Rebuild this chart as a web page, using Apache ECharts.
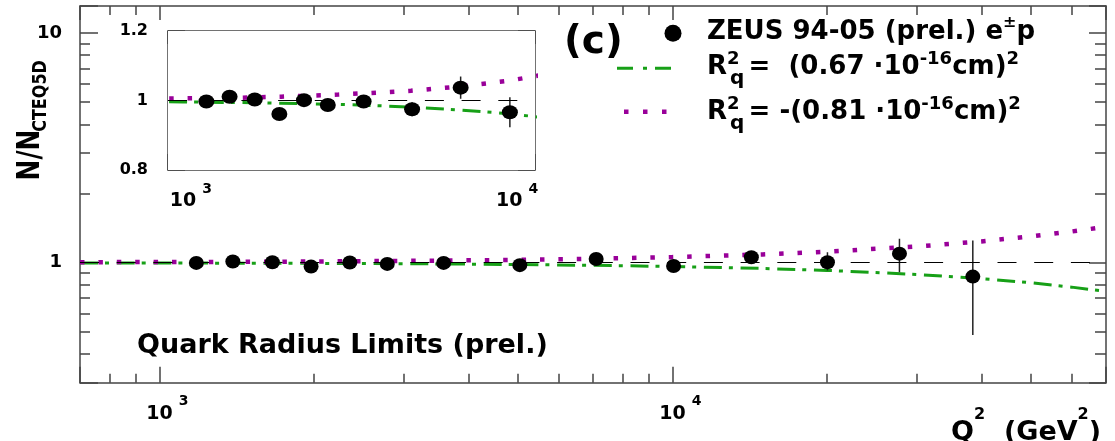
<!DOCTYPE html>
<html><head><meta charset="utf-8">
<script src="https://cdn.jsdelivr.net/npm/echarts@6/dist/echarts.min.js"></script>
<style>html,body{margin:0;padding:0;background:#fff;}#c{width:1115px;height:441px;}</style>
</head><body><div id="c"></div>
<script>
// ---------- data ----------
const q2     = [1180, 1390, 1660, 1975, 2350, 2780, 3580, 5040, 7100, 10050, 14250, 20050, 27700, 38500];
const ratio  = [0.997, 1.011, 1.003, 0.961, 1.001, 0.987, 0.997, 0.975, 1.037, 0.966, 1.055, 1.003, 1.094, 0.869];
const errLo  = [0.012, 0.012, 0.013, 0.014, 0.015, 0.016, 0.017, 0.020, 0.032, 0.043, 0.060, 0.080, 0.187, 0.385];
const errHi  = [0.012, 0.012, 0.013, 0.014, 0.015, 0.016, 0.017, 0.020, 0.032, 0.043, 0.060, 0.106, 0.175, 0.378];
const curveQ2    = [700, 1000, 1500, 2000, 3000, 4000, 5000, 7000, 10000, 15000, 20000, 30000, 40000, 50000, 60000, 70000];
const curvePlus  = [0.997, 0.996, 0.994, 0.992, 0.989, 0.985, 0.981, 0.973, 0.962, 0.943, 0.925, 0.888, 0.852, 0.817, 0.782, 0.749];
const curveMinus = [1.004, 1.006, 1.008, 1.011, 1.017, 1.023, 1.028, 1.040, 1.057, 1.086, 1.116, 1.176, 1.237, 1.301, 1.366, 1.432];
const refValue = 1;
const mainX = [700, 70000];
const mainY = [0.3, 13.1];
const insetX = [900, 12000];
const insetY = [0.8, 1.2];
const insetYStep = 0.1;
const insetYLabels = ['0.8', '1', '1.2'];
const legendData = 'ZEUS 94-05 (prel.) e';
const legendPlus = ' =  (0.67 ·10';
const legendMinus = ' = -(0.81 ·10';
const panelTag = '(c)';
const noteText = 'Quark Radius Limits (prel.)';

// ---------- styles ----------
const FONT = "'DejaVu Sans', sans-serif";
const AX = '#444';
const GREEN = '#17a017';
const PURPLE = '#990099';

function isPow10(v) { const l = Math.log10(v); return Math.abs(l - Math.round(l)) < 1e-6; }

const xLabelStyle = {
  show: true, margin: 12,
  formatter: v => isPow10(v) ? '{b|10}{s|' + Math.round(Math.log10(v)) + '}' : '',
  rich: {
    b: {fontFamily: FONT, fontWeight: 'bold', fontSize: 19, lineHeight: 38, padding: [0, 0, 0, 16], color: '#000'},
    s: {fontFamily: FONT, fontWeight: 'bold', fontSize: 14, lineHeight: 13, verticalAlign: 'top', padding: [0, 0, 0, 6], color: '#000'}
  }
};

function axisBase(extra) {
  return Object.assign({
    axisLine: {show: true, onZero: false, lineStyle: {color: AX, width: 1.5}},
    splitLine: {show: false},
    minorSplitLine: {show: false}
  }, extra);
}

function logX(grid, range, pos, label, major, minor) {
  return axisBase({
    type: 'log', logBase: 10, gridIndex: grid, position: pos, min: range[0], max: range[1],
    axisTick: {show: true, inside: true, length: major, lineStyle: {color: AX, width: 1.5}},
    minorTick: {show: true, splitNumber: 9, length: minor, lineStyle: {color: AX, width: 1.5}},
    axisLabel: label ? xLabelStyle : {show: false}
  });
}

function logY(grid, range, pos, label, major, minor) {
  return axisBase({
    type: 'log', logBase: 10, gridIndex: grid, position: pos, min: range[0], max: range[1],
    axisTick: {show: true, inside: true, length: major, lineStyle: {color: AX, width: 1.5}},
    minorTick: {show: true, splitNumber: 9, length: minor, lineStyle: {color: AX, width: 1.5}},
    axisLabel: label ? {show: true, margin: 18, fontFamily: FONT, fontWeight: 'bold', fontSize: 18, color: '#000',
      formatter: v => isPow10(v) ? String(Math.round(v)) : ''} : {show: false}
  });
}

function linY(grid, range, pos, label) {
  return axisBase({
    type: 'value', gridIndex: grid, position: pos, min: range[0], max: range[1], interval: insetYStep,
    axisTick: {show: true, inside: true, length: 17, lineStyle: {color: AX, width: 1.5}},
    minorTick: {show: false},
    axisLabel: label ? {show: true, margin: 20, fontFamily: FONT, fontWeight: 'bold', fontSize: 16, color: '#000',
      formatter: v => { const m = insetYLabels.find(s => Math.abs(Number(s) - v) < 1e-6); return m || ''; }} : {show: false}
  });
}

const points = q2.map((q, i) => [q, ratio[i]]);
const bars = q2.map((q, i) => [q, ratio[i] - errLo[i], ratio[i] + errHi[i]]);
const plusLine = curveQ2.map((q, i) => [q, curvePlus[i]]);
const minusLine = curveQ2.map((q, i) => [q, curveMinus[i]]);

function errRender(params, api) {
  const x = api.value(0);
  const a = api.coord([x, api.value(1)]);
  const b = api.coord([x, api.value(2)]);
  return {type: 'line', shape: {x1: a[0], y1: a[1], x2: b[0], y2: b[1]}, style: {stroke: '#222', lineWidth: 1.5}};
}

function seriesFor(xi, yi, sym) {
  return [
    {type: 'line', xAxisIndex: xi, yAxisIndex: yi, data: plusLine, symbol: 'none', z: 2, silent: true,
      lineStyle: {color: GREEN, width: 3, type: [18, 7, 4, 7.7]},
      markLine: {silent: true, symbol: ['none', 'none'], label: {show: false},
        lineStyle: {color: '#000', width: 1, type: [19, 17.7]}, data: [{yAxis: refValue}]}},
    {type: 'line', xAxisIndex: xi, yAxisIndex: yi, data: minusLine, symbol: 'none', z: 2, silent: true,
      lineStyle: {color: PURPLE, width: 4.5, type: [4.5, 13.9]}},
    {type: 'custom', xAxisIndex: xi, yAxisIndex: yi, data: bars, renderItem: errRender, clip: true, z: 3,
      encode: {x: 0, y: [1, 2]}},
    {type: 'scatter', xAxisIndex: xi, yAxisIndex: yi, data: points, symbol: 'circle', symbolSize: sym, z: 5,
      itemStyle: {color: '#000', opacity: 1}}
  ];
}

const txt = (size, extra) => Object.assign({fontFamily: FONT, fontWeight: 'bold', fontSize: size, fill: '#000'}, extra || {});
const legRich = {
  n: {fontFamily: FONT, fontWeight: 'bold', fontSize: 26, lineHeight: 35, color: '#000'},
  s: {fontFamily: FONT, fontWeight: 'bold', fontSize: 18, lineHeight: 18, verticalAlign: 'top', color: '#000'},
  p: {fontFamily: FONT, fontWeight: 'bold', fontSize: 16, lineHeight: 16, verticalAlign: 'top', color: '#000'}
};

const option = {
  animation: false,
  backgroundColor: '#fff',
  grid: [
    {left: 80, top: 6, width: 1026, height: 376.7, show: false},
    {left: 168, top: 31, width: 367, height: 139, show: true, backgroundColor: '#fff', borderWidth: 0, z: 1}
  ],
  xAxis: [
    logX(0, mainX, 'bottom', true, 16, 9),
    logX(0, mainX, 'top', false, 14, 9),
    logX(1, insetX, 'bottom', true, 16, 7),
    logX(1, insetX, 'top', false, 13, 8)
  ],
  yAxis: [
    logY(0, mainY, 'left', true, 18, 10),
    logY(0, mainY, 'right', false, 17, 11),
    linY(1, insetY, 'left', true),
    linY(1, insetY, 'right', false)
  ],
  series: [].concat(seriesFor(0, 0, [15, 14]), seriesFor(2, 2, [16, 14])),
  graphic: [
    {type: 'text', x: 564, y: 42.5, style: txt(39, {text: panelTag, verticalAlign: 'middle'})},
    {type: 'circle', shape: {cx: 673, cy: 33.3, r: 8.5}, style: {fill: '#000'}},
    {type: 'line', shape: {x1: 617, y1: 68.3, x2: 673, y2: 68.3}, style: {stroke: GREEN, lineWidth: 3, lineDash: [16, 10, 4, 8]}},
    {type: 'line', shape: {x1: 624, y1: 111.7, x2: 667, y2: 111.7}, style: {stroke: PURPLE, lineWidth: 4.5, lineDash: [4.5, 14.5]}},
    {type: 'text', x: 707, y: 32.5, style: {text: '{n|' + legendData + '}{p|±}{n|p}', rich: legRich, verticalAlign: 'middle'}},
    {type: 'text', x: 707, y: 67.5, style: {text: '{n|R}{s|2}{n|' + legendPlus + '}{s|-16}{n|cm)}{s|2}', rich: legRich, verticalAlign: 'middle'}},
    {type: 'text', x: 730, y: 79, style: txt(20, {text: 'q', verticalAlign: 'middle'})},
    {type: 'text', x: 707, y: 112.5, style: {text: '{n|R}{s|2}{n|' + legendMinus + '}{s|-16}{n|cm)}{s|2}', rich: legRich, verticalAlign: 'middle'}},
    {type: 'text', x: 730, y: 124, style: txt(20, {text: 'q', verticalAlign: 'middle'})},
    {type: 'text', x: 137, y: 345.5, style: txt(27, {text: noteText, verticalAlign: 'middle'})},
    {type: 'text', x: 951, y: 432.8, style: {text: '{n|Q}{t|2}{n|  (GeV}{t|2}{n|)}', verticalAlign: 'middle', rich: {
      n: {fontFamily: FONT, fontWeight: 'bold', fontSize: 27, lineHeight: 52, color: '#000'},
      t: {fontFamily: FONT, fontWeight: 'bold', fontSize: 16, lineHeight: 18, verticalAlign: 'top', color: '#000'}}}},
    {type: 'text', x: 31, y: 155, rotation: Math.PI / 2, scaleY: 1.25, style: txt(25, {text: 'N/N', align: 'center', verticalAlign: 'middle'})},
    {type: 'text', x: 41, y: 96, rotation: Math.PI / 2, scaleY: 1.25, style: txt(16, {text: 'CTEQ5D', align: 'center', verticalAlign: 'middle'})}
  ]
};

const chart = echarts.init(document.getElementById('c'), null, {renderer: 'canvas'});
chart.setOption(option);
</script>
</body></html>
